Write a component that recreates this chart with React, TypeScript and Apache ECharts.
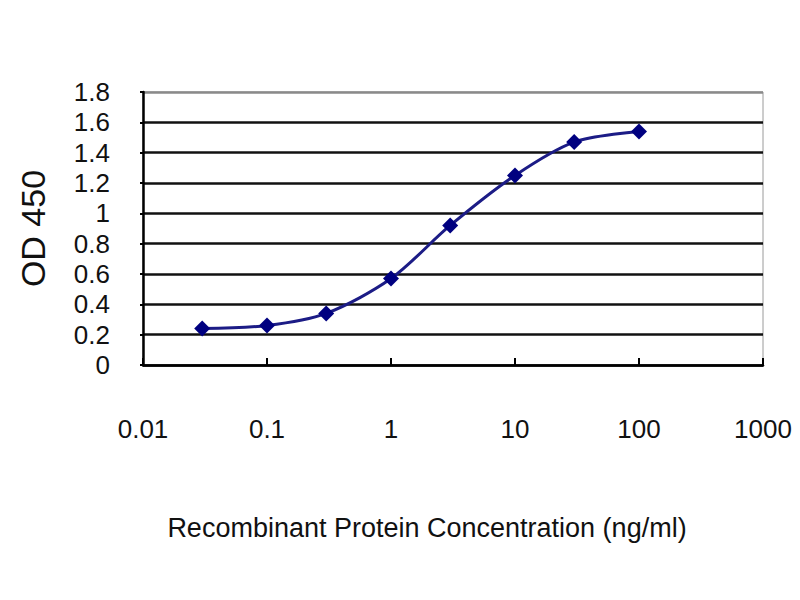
import React, { useEffect, useRef } from "react";
import * as echarts from "echarts";

const concentrations = [0.03, 0.1, 0.3, 1, 3, 10, 30, 100];
const odValues = [0.24, 0.26, 0.34, 0.57, 0.92, 1.25, 1.47, 1.54];
const xTickLabels = ["0.01", "0.1", "1", "10", "100", "1000"];
const yTickLabels = ["0", "0.2", "0.4", "0.6", "0.8", "1", "1.2", "1.4", "1.6", "1.8"];

export default function App() {
  const ref = useRef<HTMLDivElement>(null);
  useEffect(() => {
    if (!ref.current) return;
    const chart = echarts.init(ref.current, null, { renderer: "svg" });
    const font = "Liberation Sans, Arial, sans-serif";
    const gridColors = yTickLabels.map((_, i) => (i === yTickLabels.length - 1 ? "#8a8a8a" : "#111111"));
    chart.setOption({
      animation: false,
      backgroundColor: "#ffffff",
      grid: {
        left: 143,
        right: 37,
        top: 92,
        bottom: 235,
        show: true,
        borderColor: "#9a9a9a",
        borderWidth: 1,
        backgroundColor: "#ffffff",
      },
      xAxis: {
        type: "log",
        logBase: 10,
        min: 0.01,
        max: 1000,
        name: "Recombinant Protein Concentration (ng/ml)",
        nameLocation: "middle",
        nameGap: 149,
        nameTextStyle: { fontSize: 27, color: "#111", fontFamily: font, padding: [0, 52, 0, 0] },
        axisLine: { show: true, lineStyle: { color: "#000", width: 2.5 } },
        axisTick: { show: true, inside: true, length: 7, lineStyle: { color: "#000", width: 2 } },
        minorTick: { show: false },
        splitLine: { show: false },
        axisLabel: {
          fontSize: 26,
          color: "#111",
          fontFamily: font,
          margin: 51,
          formatter: (v: number) => {
            const idx = Math.round(Math.log10(v)) + 2;
            return xTickLabels[idx] ?? "";
          },
        },
      },
      yAxis: {
        type: "value",
        min: 0,
        max: 1.8,
        interval: 0.2,
        name: "OD 450",
        nameLocation: "middle",
        nameGap: 93,
        nameTextStyle: { fontSize: 34, color: "#111", fontFamily: font },
        axisLine: { show: true, lineStyle: { color: "#000", width: 2.5 } },
        axisTick: { show: true, length: 3, lineStyle: { color: "#000", width: 2 } },
        splitLine: { show: true, lineStyle: { color: gridColors, width: 2.5 } },
        axisLabel: {
          fontSize: 26,
          color: "#111",
          fontFamily: font,
          margin: 33,
          formatter: (v: number) => {
            const idx = Math.round(v / 0.2);
            return yTickLabels[idx] ?? "";
          },
        },
      },
      series: [
        {
          type: "line",
          data: concentrations.map((c, i) => [c, odValues[i]]),
          smooth: 0.3,
          symbol: "diamond",
          symbolSize: 16,
          itemStyle: { color: "#000080" },
          lineStyle: { color: "#1c1c86", width: 3 },
        },
      ],
    });
    return () => chart.dispose();
  }, []);
  return (
    <div
      ref={ref}
      style={{ position: "fixed", left: 0, top: 0, width: 800, height: 600, background: "#fff" }}
    />
  );
}
